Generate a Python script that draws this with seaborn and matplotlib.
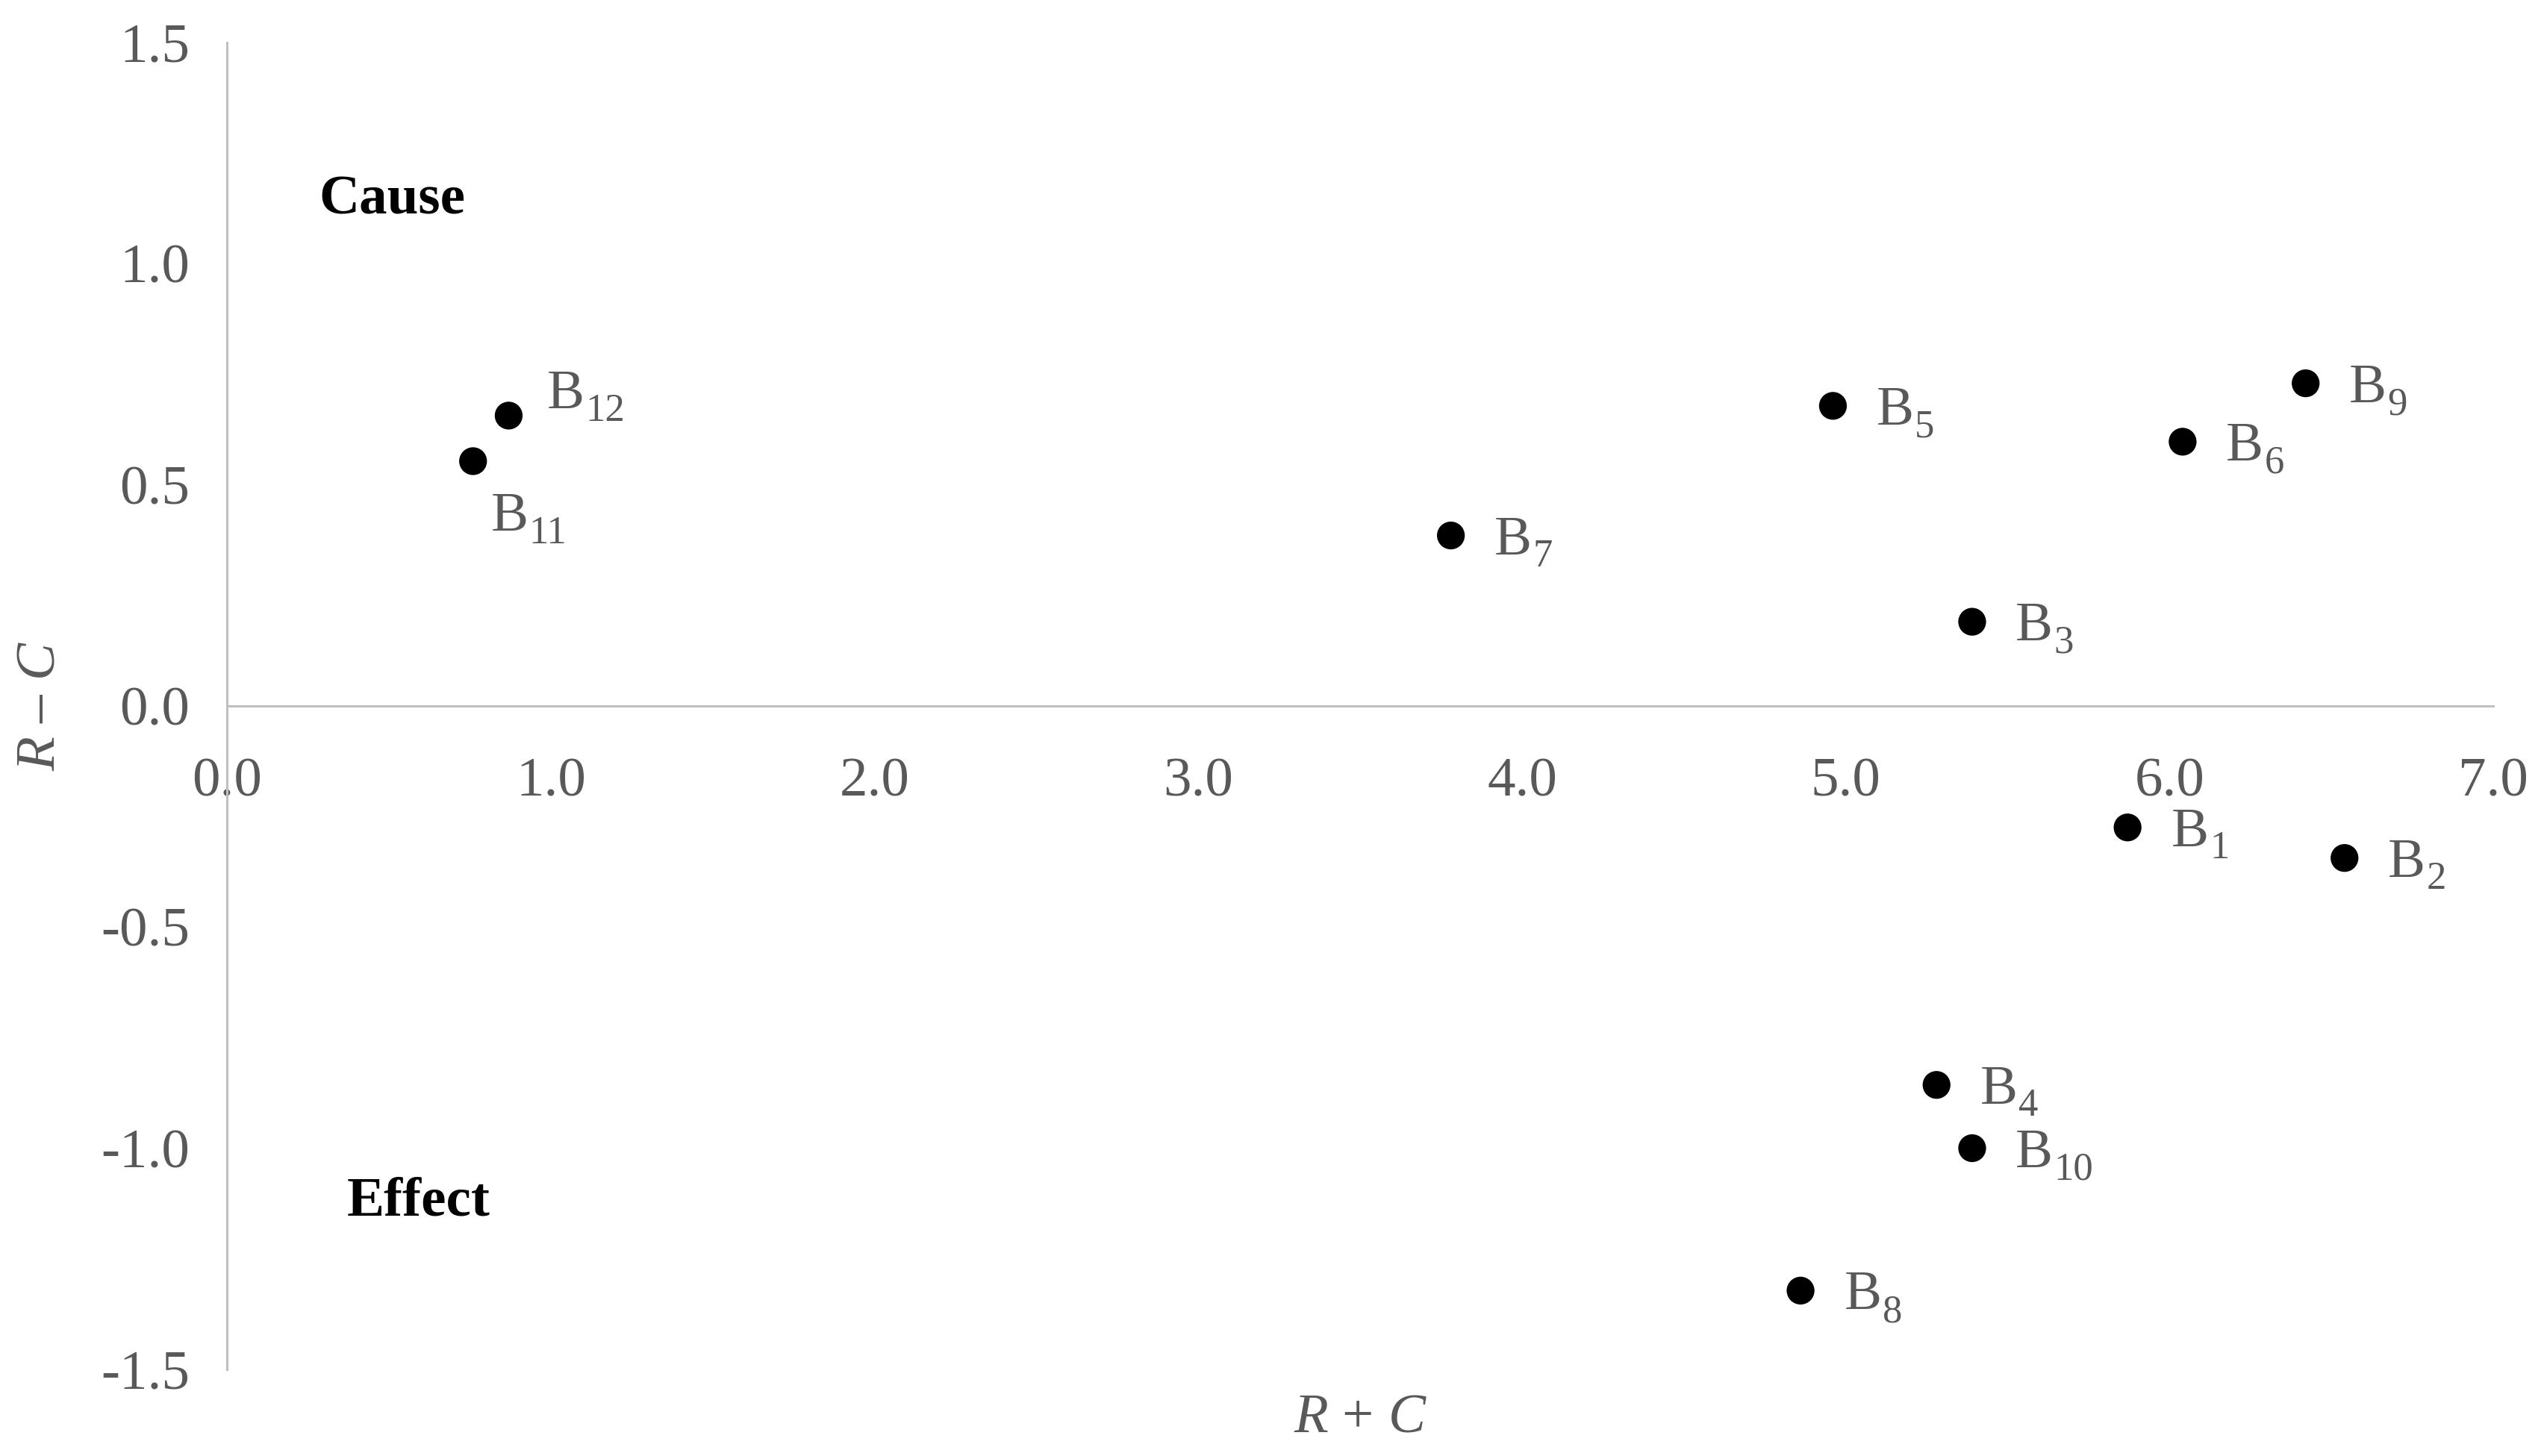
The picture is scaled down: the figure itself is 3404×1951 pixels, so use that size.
import numpy as np
import pandas as pd
import seaborn as sns
import matplotlib.pyplot as plt
from matplotlib.ticker import FixedLocator, FuncFormatter

# values
names = ["1", "2", "3", "4", "5", "6", "7", "8", "9", "10", "11", "12"]
r_plus_c = [5.87, 6.54, 5.39, 5.28, 4.96, 6.04, 3.78, 4.86, 6.42, 5.39, 0.76, 0.87]
r_minus_c = [-0.275, -0.344, 0.19, -0.857, 0.678, 0.597, 0.385, -1.322, 0.729, -1.0, 0.553, 0.656]
# label offsets (points) relative to the dot
label_dx = [42, 42, 42, 42, 42, 42, 42, 42, 42, 42, 17, 37]
label_dy = [-18, -18, -18, -18, -18, -18, -18, -18, -18, -18, -67, 7]

x_ticks = [0, 1, 2, 3, 4, 5, 6, 7]
y_ticks = [-1.5, -1.0, -0.5, 0.0, 0.5, 1.0, 1.5]

df = pd.DataFrame({"name": names, "rc_sum": r_plus_c, "rc_diff": r_minus_c})

sns.set_style("white")
plt.rcParams['font.family'] = ['Liberation Serif', 'DejaVu Serif']
plt.rcParams['mathtext.fontset'] = 'custom'
plt.rcParams['mathtext.rm'] = 'Liberation Serif'
plt.rcParams['mathtext.it'] = 'Liberation Serif:italic'

grey = '#595959'
axis_grey = '#bfbfbf'
fs = 54
fs_sub = 38

fig = plt.figure(figsize=(34.05, 19.51), dpi=100)
ax = fig.add_axes([0.0893, 0.0595, 0.8917, 0.9115])

sns.scatterplot(data=df, x="rc_sum", y="rc_diff", color='black', s=720,
                edgecolor='none', ax=ax, zorder=3)

for n, x, y, dx, dy in zip(names, r_plus_c, r_minus_c, label_dx, label_dy):
    ax.annotate('B', (x, y), xytext=(dx, dy), textcoords='offset points',
                ha='left', va='baseline', fontsize=fs, color=grey)
    ax.annotate(n, (x, y), xytext=(dx + 37, dy - 12), textcoords='offset points',
                ha='left', va='baseline', fontsize=fs_sub, color=grey)

ax.text(0.285, 1.143, 'Cause', fontsize=fs, fontweight='bold', color='black',
        ha='left', va='center')
ax.text(0.37, -1.121, 'Effect', fontsize=fs, fontweight='bold', color='black',
        ha='left', va='center')

ax.set_xlim(0, 7)
ax.set_ylim(-1.5, 1.5)
ax.xaxis.set_major_locator(FixedLocator(x_ticks))
ax.yaxis.set_major_locator(FixedLocator(y_ticks))
fmt = FuncFormatter(lambda v, p: ('%.1f' % v).replace('\u2212', '-'))
ax.xaxis.set_major_formatter(fmt)
ax.yaxis.set_major_formatter(fmt)

ax.spines['top'].set_visible(False)
ax.spines['right'].set_visible(False)
ax.spines['bottom'].set_position(('data', 0))
for s in ['left', 'bottom']:
    ax.spines[s].set_color(axis_grey)
    ax.spines[s].set_linewidth(2.2)

ax.tick_params(axis='x', direction='in', length=19, width=2.2, color=axis_grey,
               labelsize=fs, labelcolor=grey, pad=50)
ax.tick_params(axis='y', direction='in', length=12, width=2.2, color=axis_grey,
               labelsize=fs, labelcolor=grey, pad=36)

ax.set_xlabel(r'$R$ + $C$', fontsize=fs, color=grey, va='center')
ax.set_ylabel(r'$R$ – $C$', fontsize=fs, color=grey, va='center')
ax.xaxis.set_label_coords(0.5, -0.037)
ax.yaxis.set_label_coords(-0.082, 0.5)

fig.savefig('out.png', dpi=100, facecolor='white')
